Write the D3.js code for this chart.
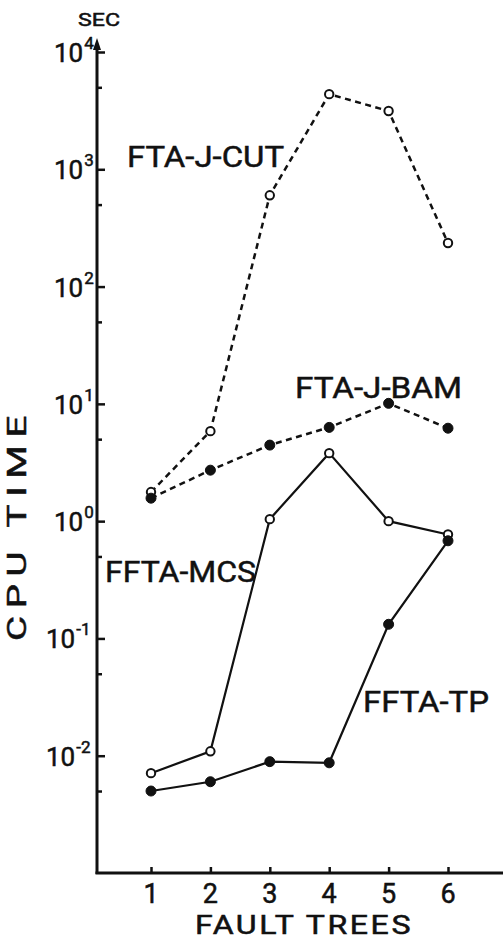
<!DOCTYPE html>
<html>
<head>
<meta charset="utf-8">
<script src="https://cdn.jsdelivr.net/npm/d3@7"></script>
<style>
  html, body { margin: 0; padding: 0; background: #fff; }
  svg { display: block; }
  text { font-family: Roboto, "DejaVu Sans", sans-serif; font-weight: 400; fill: #111; stroke: #111; stroke-width: 0.5; }
</style>
</head>
<body>
<svg id="chart" width="503" height="940"></svg>
<script>
// ---- data ----
const faultTrees = [1, 2, 3, 4, 5, 6];
const ftaJCut  = [1.77, 5.85, 600, 4370, 3140, 235];
const ftaJBam  = [1.57, 2.72, 4.45, 6.3, 10.1, 6.2];
const fftaMcs  = [0.0071, 0.0109, 1.04, 3.8, 1.0, 0.77];
const fftaTp   = [0.0050, 0.0060, 0.0089, 0.0087, 0.132, 0.68];
const majorTicks = [1e-2, 1e-1, 1e0, 1e1, 1e2, 1e3, 1e4];
const majorExp   = ["-2", "-1", "0", "1", "2", "3", "4"];
const minorTicks = [5e-3, 5e-2, 5e-1, 5e0, 5e1, 5e2, 5e3];

const svg = d3.select("#chart");
const ink = "#111";

const x = d3.scaleLinear().domain([1, 6]).range([151, 448]);
const y = d3.scaleLog().domain([1e-3, 1e4]).range([873, 52]);
const axisX = 97, axisY = 873;

// axes lines
svg.append("line").attr("x1", axisX).attr("x2", axisX).attr("y1", axisY + 1).attr("y2", 44)
  .attr("stroke", ink).attr("stroke-width", 3);
svg.append("path").attr("d", `M${axisX - 4},50 L${axisX},38 L${axisX + 4},50 Z`).attr("fill", ink);
svg.append("line").attr("x1", axisX - 1.5).attr("x2", 503).attr("y1", axisY).attr("y2", axisY)
  .attr("stroke", ink).attr("stroke-width", 3);

// y ticks (inside, to the right)
const yMaj = svg.append("g").attr("transform", `translate(${axisX},0)`)
  .call(d3.axisRight(y).tickValues(majorTicks).tickSize(8).tickFormat(""));
yMaj.select(".domain").remove();
yMaj.selectAll("line").attr("stroke", ink).attr("stroke-width", 2.5);
const yMin = svg.append("g").attr("transform", `translate(${axisX},0)`)
  .call(d3.axisRight(y).tickValues(minorTicks).tickSize(5).tickFormat(""));
yMin.select(".domain").remove();
yMin.selectAll("line").attr("stroke", ink).attr("stroke-width", 2.5);

// y tick labels 10^n
majorTicks.forEach((v, i) => {
  const e = majorExp[i];
  const baseRight = e.startsWith("-") ? 72 : 80;
  const t = svg.append("text").attr("x", baseRight - 26).attr("y", y(v) + 10);
  t.append("tspan").attr("font-size", 26).text("10");
  t.append("tspan").attr("font-size", 17).attr("dy", -13).attr("dx", 1).text(e);
});

// x ticks (inside, upward)
const xAx = svg.append("g").attr("transform", `translate(0,${axisY})`)
  .call(d3.axisTop(x).tickValues(faultTrees).tickSize(6).tickFormat(""));
xAx.select(".domain").remove();
xAx.selectAll("line").attr("stroke", ink).attr("stroke-width", 2.5);
svg.append("g").selectAll("text").data(faultTrees).join("text")
  .attr("x", d => x(d)).attr("y", 903).attr("text-anchor", "middle")
  .attr("font-size", 27).text(d => d);

// axis titles
svg.append("text").attr("x", 195).attr("y", 934)
  .attr("font-size", 25).attr("letter-spacing", 2).attr("textLength", 218).attr("lengthAdjust", "spacingAndGlyphs")
  .text("FAULT TREES");
svg.append("text").attr("transform", "translate(26,641) rotate(-90)")
  .attr("font-size", 25).attr("letter-spacing", 5)
  .attr("textLength", 233).attr("lengthAdjust", "spacingAndGlyphs").text("CPU TIME");
svg.append("text").attr("x", 78).attr("y", 26)
  .attr("font-size", 19).attr("textLength", 42).attr("lengthAdjust", "spacingAndGlyphs").text("SEC");

// series
const series = [
  { vals: ftaJCut, dash: "6,4.5", filled: false, w: 2.5 },
  { vals: ftaJBam, dash: "6,4.5", filled: true,  w: 2.5 },
  { vals: fftaMcs, dash: null,    filled: false, w: 2.2 },
  { vals: fftaTp,  dash: null,    filled: true,  w: 2.2 }
];
const line = d3.line().x(d => x(d[0])).y(d => y(d[1]));
series.forEach(s => {
  const pts = faultTrees.map((f, i) => [f, s.vals[i]]);
  svg.append("path").datum(pts).attr("d", line).attr("fill", "none")
    .attr("stroke", ink).attr("stroke-width", s.w)
    .attr("stroke-dasharray", s.dash);
});
series.forEach(s => {
  const pts = faultTrees.map((f, i) => [f, s.vals[i]]);
  svg.append("g").selectAll("circle").data(pts).join("circle")
    .attr("cx", d => x(d[0])).attr("cy", d => y(d[1]))
    .attr("r", s.filled ? 5 : 4.2)
    .attr("fill", s.filled ? ink : "#fff")
    .attr("stroke", ink).attr("stroke-width", s.filled ? 1 : 2);
});

// series labels
const labels = [
  { t: "FTA-J-CUT", x: 127, y: 167, w: 157 },
  { t: "FTA-J-BAM", x: 295, y: 398, w: 167 },
  { t: "FFTA-MCS",  x: 105, y: 582, w: 151 },
  { t: "FFTA-TP",   x: 363, y: 712, w: 126 }
];
svg.append("g").selectAll("text").data(labels).join("text")
  .attr("x", d => d.x).attr("y", d => d.y).attr("font-size", 30)
  .attr("textLength", d => d.w).attr("lengthAdjust", "spacingAndGlyphs")
  .text(d => d.t);
</script>
</body>
</html>
